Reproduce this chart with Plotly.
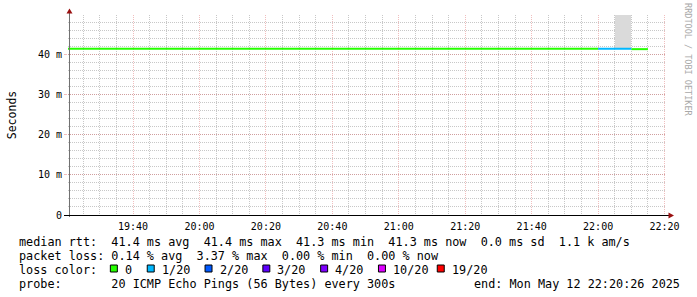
import pandas as pd
import plotly.graph_objects as go

# ---------------- data ----------------
step_end = pd.date_range("2025-05-12 19:25", "2025-05-12 22:15", freq="5min")  # 5-minute RRD steps
median_ms = [41.4, 41.4, 41.4, 41.3, 41.4, 41.4, 41.4, 41.4, 41.3, 41.4,
             41.4, 41.4, 41.4, 41.4, 41.3, 41.4, 41.4, 41.4, 41.4, 41.4,
             41.4, 41.3, 41.4, 41.4, 41.4, 41.4, 41.4, 41.4, 41.3, 41.4,
             41.4, 41.4, 41.4, 41.4, 41.3]
loss_pct = [0] * 32 + [1.69, 3.37, 0]
smoke_max_ms = [None] * 33 + [61.2, None]

loss_labels = ["0", "1/20", "2/20", "3/20", "4/20", "10/20", "19/20"]
loss_limits = [0, 5, 10, 15, 20, 50, 100]
loss_colors = ["#26ff00", "#00b8ff", "#0059ff", "#5e00ff", "#7e00ff", "#dd00ff", "#ff0000"]

y_tickvals = [0, 0.01, 0.02, 0.03, 0.04]
y_ticktext = ["0", "10 m", "20 m", "30 m", "40 m"]

x_start = "2025-05-12 19:20:26"
x_end = "2025-05-12 22:20:26"

legend_lines = [
    "median rtt:  41.4 ms avg  41.4 ms max  41.3 ms min  41.3 ms now  0.0 ms sd  1.1 k am/s",
    "packet loss: 0.14 % avg  3.37 % max  0.00 % min  0.00 % now",
    "loss color:",
    "probe:       20 ICMP Echo Pings (56 Bytes) every 300s",
]
end_text = "end: Mon May 12 22:20:26 2025"
watermark = "RRDTOOL / TOBI OETIKER"

# ---------------- layout geometry ----------------
W, H = 697, 297
L, R, T, B = 66, 31, 15, 82
PW, PH = W - L - R, H - T - B
MONO = "DejaVu Sans Mono"
swatch_left = [108.5, 145.5, 203.5, 261.5, 319.5, 377.5, 436.5]
line_y = [241.5, 255.5, 269.5, 283.5]


def px(x):
    return (x - L) / PW


def py(y):
    return (H - B - y) / PH


step = pd.Timedelta("5min")


def color_of(p):
    for lim, c in zip(loss_limits, loss_colors):
        if p <= lim:
            return c
    return loss_colors[-1]


fig = go.Figure()

# smoke
sx, sb, sh = [], [], []
for t, m, s in zip(step_end, median_ms, smoke_max_ms):
    if s is not None:
        sx.append(t - step / 2)
        sb.append(m / 1000)
        sh.append((s - m) / 1000)
fig.add_trace(go.Bar(x=sx, y=sh, base=sb, width=[step.total_seconds() * 1000] * len(sx),
                     marker=dict(color="#dadada", line=dict(width=0)), hoverinfo="skip"))

# median line, coloured by loss
segs = {}
prev = None
for t, m, p in zip(step_end, median_ms, loss_pct):
    c = color_of(p)
    xs, ys = segs.setdefault(c, ([], []))
    if prev is not None and prev != c and xs:
        xs.append(None)
        ys.append(None)
    xs += [t - step, t]
    ys += [m / 1000, m / 1000]
    prev = c
for c, (xs, ys) in segs.items():
    fig.add_trace(go.Scatter(x=xs, y=ys, mode="lines", line=dict(color=c, width=2),
                             hoverinfo="skip", connectgaps=False))

major = "rgba(220,100,100,0.42)"
minor = "#c8c8c8"

fig.update_layout(
    width=W, height=H, margin=dict(l=L, r=R, t=T, b=B, pad=0),
    paper_bgcolor="white", plot_bgcolor="white", showlegend=False,
    font=dict(family=MONO, size=10, color="black"),
    bargap=0,
    xaxis=dict(type="date", range=[x_start, x_end], tick0="2025-05-12 00:00",
               dtick=1200000, tickformat="%H:%M", showgrid=True, gridcolor=major,
               griddash="1px,1px", gridwidth=1, zeroline=False, showline=False,
               ticks="outside", ticklen=2, tickcolor="rgba(0,0,0,0)",
               tickfont=dict(family=MONO, size=10),
               minor=dict(dtick=300000, showgrid=True, gridcolor=minor, griddash="1px,1px")),
    yaxis=dict(range=[0, 0.0498], tickvals=y_tickvals, ticktext=y_ticktext,
               showgrid=True, gridcolor=major, griddash="1px,1px", zeroline=False,
               showline=False, ticks="outside", ticklen=3, tickcolor=major,
               tickfont=dict(family=MONO, size=10),
               title=dict(text="Seconds", font=dict(family=MONO, size=11.5), standoff=18),
               minor=dict(dtick=0.002, showgrid=True, gridcolor=minor, griddash="1px,1px")),
)

shapes = []
# axes
shapes.append(dict(type="line", xref="paper", yref="paper", x0=px(67.5), x1=px(67.5),
                   y0=py(217), y1=py(11), line=dict(color="#707070", width=1)))
shapes.append(dict(type="line", xref="paper", yref="paper", x0=px(62), x1=px(670),
                   y0=py(215.5), y1=py(215.5), line=dict(color="black", width=1)))
# arrows
arrow_col = "#9a1010"
shapes.append(dict(type="path", xref="paper", yref="paper",
                   path=f"M {px(67.5)} {py(8.5)} L {px(64.5)} {py(13.5)} L {px(70.5)} {py(13.5)} Z",
                   fillcolor=arrow_col, line=dict(width=0)))
shapes.append(dict(type="path", xref="paper", yref="paper",
                   path=f"M {px(674)} {py(215.5)} L {px(668.5)} {py(212.5)} L {px(668.5)} {py(218.5)} Z",
                   fillcolor=arrow_col, line=dict(width=0)))
# legend swatches
for xl, c in zip(swatch_left, loss_colors):
    shapes.append(dict(type="rect", xref="paper", yref="paper", x0=px(xl), x1=px(xl + 7),
                       y0=py(265), y1=py(272), fillcolor=c, line=dict(color="black", width=1)))
fig.update_layout(shapes=shapes)

LEG_FONT = dict(family=MONO, size=11.8, color="black")
ann = []
for txt, yy in zip(legend_lines, line_y):
    ann.append(dict(text=txt.replace(" ", "&nbsp;"), x=px(14.5), y=py(yy), xref="paper", yref="paper",
                    xanchor="left", yanchor="middle", showarrow=False, font=LEG_FONT))
for xl, lab in zip(swatch_left, loss_labels):
    ann.append(dict(text=lab, x=px(xl + 12.5), y=py(line_y[2]), xref="paper", yref="paper",
                    xanchor="left", yanchor="middle", showarrow=False, font=LEG_FONT))
ann.append(dict(text=end_text, x=px(682), y=py(line_y[3]), xref="paper", yref="paper",
                xanchor="right", yanchor="middle", showarrow=False, font=LEG_FONT))
ann.append(dict(text=watermark, x=px(688), y=py(60), xref="paper", yref="paper",
                xanchor="center", yanchor="middle", showarrow=False, textangle=90,
                font=dict(family=MONO, size=8.5, color="#a8a8a8")))
fig.update_layout(annotations=ann)

fig.write_html("out.html")
